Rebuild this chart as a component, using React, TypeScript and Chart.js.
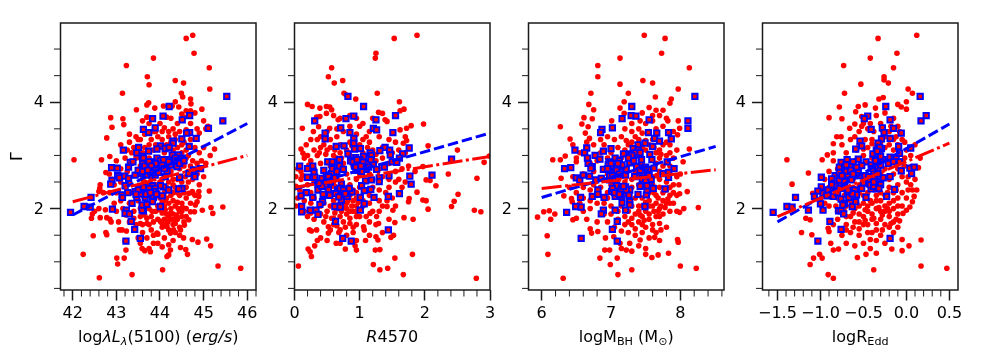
import React, { useEffect, useRef } from "react";
import { Chart, registerables } from "chart.js";

Chart.register(...registerables);

type P = number[];

const lumRed: P[] = [[44.75,5.26],[44.6,5.2],[44.78,4.92],[43.85,4.83],[43.23,4.69],[45.13,4.65],[43.71,4.48],[44.35,4.41],[43.75,4.33],[44.54,4.36],[45.14,4.25],[43.14,4.17],[44.49,4.17],[44.52,4.1],[44.7,4.06],[44.35,4.01],[44.71,3.97],[43.7,3.95],[43.74,3.99],[43.88,3.89],[43.46,3.86],[44.08,3.93],[44.28,3.93],[44.43,3.91],[44.6,3.84],[44.7,3.84],[44.96,3.87],[44.8,3.8],[44.5,3.78],[44.15,3.72],[43.7,3.72],[42.87,3.71],[43.15,3.69],[43.17,3.58],[42.9,3.53],[44.4,3.6],[44.55,3.72],[45,3.65],[45.1,3.55],[45.05,3.5],[44.9,3.42],[43.3,3.4],[42.78,3.33],[43.5,3.3],[43.45,3.35],[43.9,3.45],[44.1,3.52],[44.2,3.45],[44.6,3.48],[45.25,3.12],[45,3.15],[45.15,3],[42.03,2.92],[42.66,2.92],[42.85,2.98],[43,2.9],[42.76,2.68],[42.84,2.65],[42.9,2.55],[42.63,2.45],[42.62,2.38],[42.6,2.32],[42.7,2.3],[42.5,1.95],[42.45,1.9],[42.43,1.82],[42.63,1.83],[42.78,1.83],[42.85,1.8],[42.88,1.75],[42.75,1.98],[42.6,2],[42.47,1.49],[42.76,1.55],[42.78,1.51],[42.24,1.14],[43.01,1.07],[43.18,1.07],[43.03,0.96],[42.61,0.7],[43.36,0.76],[44.06,0.85],[45.33,0.92],[45.85,0.88],[45.16,1.3],[45.07,1.43],[44.87,1.37],[44.74,1.42],[44.54,1.45],[44.63,1.14],[44.47,1.27],[44.59,1.23],[44.24,1.22],[44.16,1.1],[44.2,1.13],[44.2,1.32],[43.85,1.35],[43.75,1.25],[43.59,1.25],[43.65,1.21],[43.78,1.19],[43.22,1.22],[43.2,1.39],[43.07,1.6],[43.13,1.6],[43.23,1.58],[45.13,2.33],[45.17,2.02],[45.21,1.91],[45.44,2.03],[44.97,1.97],[44.79,1.94],[44.81,2.07],[44.89,2.32],[44.89,2.23],[44.85,2.13],[44.74,2.32],[44.66,2.29],[44.7,1.94],[44.66,1.79],[44.56,1.69],[44.47,1.6],[44.31,1.6],[44.24,1.54],[44.16,1.66],[44.01,1.76],[43.93,1.54],[43.7,1.72],[43.55,1.72],[43.1,3.2],[43.3,3.25],[43.4,3.15],[43.55,3.3],[43.65,3.4],[43.8,3.3],[43.95,3.35],[44.05,3.3],[44.2,3.35],[44.35,3.4],[44.45,3.45],[44.7,3.3],[44.8,3.15],[44.9,3.05],[44.6,3.1],[44.4,3.15],[44.1,3.05],[43.85,3.1],[43.65,3.15],[43.35,3.05],[43.2,2.95],[43.45,2.95],[43.75,2.95],[44.3,2.9],[44.6,2.95],[44.75,2.9],[44.95,2.9],[45.05,2.85],[43.1,2.75],[43.25,2.7],[43.55,2.8],[43.85,2.7],[44.05,2.55],[44.25,2.7],[44.45,2.75],[44.7,2.8],[44.85,2.65],[45,2.6],[42.95,2.45],[43.1,2.5],[43.3,2.5],[43.6,2.55],[43.9,2.45],[44.2,2.5],[44.4,2.55],[44.65,2.5],[44.9,2.45],[42.85,2.3],[43,2.3],[43.35,2.3],[43.7,2.45],[44.15,2.4],[44.3,2.3],[44.6,2.4],[44.8,2.25],[42.95,2.1],[43.1,2.15],[43.3,2.1],[43.5,2.15],[43.75,2.25],[44,2.2],[44.15,2.2],[44.3,2.15],[44.45,2.25],[44.6,2.2],[44.7,2.1],[43,1.95],[43.15,2],[43.4,1.95],[43.65,2],[43.95,2.05],[44.1,2.05],[44.25,2],[44.35,2.05],[44.5,2.1],[44.6,2],[44.15,1.9],[44.3,1.9],[44.45,1.95],[44.6,1.85],[43.55,1.85],[43.8,1.85],[43.95,1.8],[44.1,1.8],[44.25,1.8],[44.4,1.8],[44.55,1.75],[43.05,1.75],[43.3,1.75],[43.45,1.7],[43.75,1.7],[44.15,1.7],[44.3,1.7],[44.45,1.65],[43.6,1.55],[43.8,1.6],[43.95,1.52],[44.05,1.65],[44.2,1.6],[44.35,1.55],[43.5,1.45],[43.7,1.45],[43.95,1.35],[44.3,1.4]];
const lumRedCore: P[] = [[43.45,3.1],[43.6,3.05],[43.9,3.2],[44.0,3.15],[44.15,3.2],[44.3,3.1],[44.5,3.05],[44.55,3.25],[44.25,3.25],[43.75,3.2],[43.55,2.95],[43.95,2.85],[44.4,2.85],[44.55,2.8],[44.15,2.85],[43.65,2.5],[43.8,2.55],[44.0,2.5],[44.3,2.55],[44.5,2.5],[44.3,2.45],[44.55,2.3],[44.4,2.3],[44.25,2.25],[44.1,2.3],[43.95,2.3],[43.6,2.25],[43.5,2.4],[43.25,2.3],[44.05,2.12],[44.2,2.1],[44.4,2.12],[44.52,2.02],[44.25,1.92],[44.38,1.88],[44.05,1.92],[43.9,1.95],[43.75,2.0],[43.55,2.0],[43.65,1.88],[44.5,1.85],[44.18,1.75],[44.35,1.72],[44.05,1.72],[43.85,1.75],[43.6,1.7],[43.4,1.82],[43.22,1.88],[43.15,2.2],[44.75,2.55],[44.75,2.3],[44.85,2.85],[44.65,3.0],[44.3,3.5],[44.0,3.6],[43.75,3.6],[43.6,3.65],[44.25,3.7],[44.7,3.6],[44.85,3.5],[43.25,3.1],[43.15,2.6],[43.05,2.6],[44.45,1.5],[44.1,1.45],[43.85,1.5],[43.55,1.35],[44.05,1.28],[44.12,2.15],[44.22,2.35],[44.35,2.4],[44.48,2.4],[44.58,2.6],[44.12,1.98],[44.42,2.0],[44.2,1.85],[43.98,1.98],[43.82,1.95],[44.32,1.8],[44.5,1.95],[43.7,1.82],[44.65,2.7],[44.5,3.2],[44.35,3.3],[44.05,3.45],[43.85,3.45]];

const lumBlue: P[] = [[41.95,1.93],[42.26,2.04],[42.4,2.03],[42.42,2.21],[42.91,1.99],[42.89,2.77],[43.02,2.76],[43.16,3.1],[42.9,2.53],[42.87,2.46],[43.03,2.62],[43.07,2.58],[43.19,2.61],[43.28,2.57],[43.2,2.43],[43.13,2.26],[43.14,2.21],[43.28,2.78],[43.32,2.87],[43.38,2.88],[43.26,2.3],[43.36,2.1],[43.23,1.97],[43.2,1.91],[43.3,1.9],[43.34,1.76],[43.42,1.61],[43.22,1.39],[43.55,1.44],[43.62,1.96],[43.59,1.97],[44.01,2.04],[43.83,3.69],[44.07,3.74],[44.21,3.92],[44.51,3.67],[44.68,3.75],[45.53,4.11],[45.44,3.65],[45.11,3.51],[44.83,3.32],[44.68,3.43],[44.61,3.42],[44.5,3.31],[44.67,3.17],[44.3,3.27],[44.3,3.23],[43.89,3.52],[43.74,3.43],[43.62,3.49],[43.51,3.15],[43.47,3.05],[43.74,3.08],[44.01,3.18],[43.93,3.12],[44.12,3.13],[44.21,3.15],[43.59,2.98],[43.62,2.95],[43.93,2.95],[43.82,2.88],[43.7,2.82],[44.01,2.9],[44.16,2.92],[44.28,3.01],[44.43,3.01],[44.51,2.95],[44.31,2.88],[44.24,2.82],[44.39,2.79],[44.01,2.79],[43.85,2.76],[43.66,2.73],[43.55,2.66],[43.43,2.63],[43.7,2.63],[43.89,2.63],[44.16,2.7],[44.12,2.6],[44.77,2.73],[44.93,2.75],[44.8,2.6],[44.45,2.59],[44.66,2.66],[44.5,2.38],[44.43,2.37],[44.2,2.35],[44.08,2.41],[44.01,2.43],[43.82,2.43],[43.89,2.38],[43.55,2.35],[43.43,2.32],[43.7,2.32],[43.85,2.32],[44.05,2.24],[43.66,2.21],[43.47,2.21],[43.85,2.21],[43.59,2.07],[43.7,2.08],[43.83,2.13]];
const lumBlueCore: P[] = [[43.75,2.75],[43.78,2.7],[43.95,2.75],[44.1,2.85],[44.35,2.95],[43.9,2.85],[43.62,2.33],[43.55,2.28],[43.75,2.38],[43.6,2.85],[43.65,2.8],[43.75,2.88],[43.8,2.8],[43.9,2.72],[43.97,2.68],[44.05,2.82],[44.1,2.75],[44.2,2.88],[44.4,2.9],[44.45,2.85],[44.55,2.9],[43.5,2.72],[43.6,2.7],[43.8,2.67],[44.08,2.92],[43.5,2.35],[43.62,2.4],[43.68,2.27],[43.78,2.3],[43.45,2.27],[43.92,2.27],[43.72,2.72]];

const r4570Red: P[] = [[1.88,5.26],[1.53,5.2],[1.25,4.92],[1.24,4.83],[0.57,4.65],[0.52,4.48],[0.74,4.41],[0.61,4.36],[1.27,4.17],[0.76,4.17],[0.79,4.14],[0.94,4.06],[0.2,3.96],[0.27,3.92],[0.39,3.89],[0.49,3.92],[0.54,3.91],[0.57,3.86],[0.49,3.79],[0.39,3.73],[0.34,3.72],[1.61,4.01],[1.68,3.87],[1.62,3.84],[1.29,3.81],[1.35,3.79],[0.12,3.51],[0.29,3.45],[0.37,3.54],[0.54,3.51],[0.67,3.67],[0.7,3.7],[1.39,3.67],[1.42,3.64],[1.98,3.59],[1.79,3.56],[1.72,3.51],[1.62,3.48],[1.7,3.35],[1.72,3.28],[1.67,3.23],[0.1,3.12],[0.18,3.2],[0.13,3.04],[2.05,3.18],[2.5,3.1],[2.91,2.87],[2.99,2.99],[2.8,2.57],[2.36,2.65],[2.17,2.43],[2.02,2.54],[2.08,2.53],[1.88,2.31],[1.97,2.79],[2.51,2.27],[2.45,2.14],[2.41,2.04],[2.76,1.97],[2.86,1.94],[1.97,2.16],[2.02,2.15],[2.05,1.99],[1.82,1.8],[1.68,1.83],[1.76,2.19],[1.75,2.13],[1.54,1.74],[1.51,1.97],[1.52,1.5],[1.48,1.46],[1.81,1.14],[1.54,1.07],[2.79,0.69],[1.67,0.76],[1.43,0.88],[1.31,0.85],[1.21,0.95],[0.06,0.92],[0.26,1.1],[0.24,1.19],[0.21,1.24],[0.31,1.3],[0.35,1.4],[0.23,1.6],[0.26,1.58],[0.34,1.6],[0.52,1.54],[0.52,1.66],[0.57,1.82],[0.68,1.55],[0.64,1.35],[0.7,1.35],[0.78,1.24],[0.93,1.3],[0.95,1.22],[1.09,1.4],[1.25,1.47],[1.28,1.41],[1.24,1.22],[1.31,1.23],[1.06,1.66],[1.07,1.6],[1.29,1.72],[1.26,1.85],[1.16,1.91],[1.42,2.04],[0.05,2.75],[0.02,2.6],[0.1,2.55],[0.02,2.42],[0.08,2.35],[0.05,2.2],[0.15,2.15],[0.02,2.05],[0.25,2.1],[0.3,2.2],[0.2,2.45],[0.3,2.5],[0.25,2.9],[0.2,3],[0.35,3],[0.3,3.1],[0.4,3.15],[0.45,3.2],[0.35,3.3],[0.55,3.3],[0.5,3.1],[0.6,3],[0.65,2.95],[0.7,3.05],[0.8,3.1],[0.85,3],[0.95,3.4],[1.05,3.3],[1.15,3.25],[0.75,3.45],[0.65,3.35],[1,3.55],[1.15,3.45],[1.3,3.35],[1.45,3.3],[1.55,3.25],[1.6,3.1],[1.5,3.05],[1.35,2.95],[1.25,2.9],[1.05,2.9],[0.4,2.85],[0.45,2.7],[0.6,2.65],[0.75,2.85],[0.9,2.8],[1.15,2.65],[1.35,2.6],[1.55,2.7],[1.65,2.75],[1.75,2.8],[1.85,2.7],[1.7,2.5],[1.55,2.5],[1.45,2.4],[1.65,2.4],[1.2,2.4],[0.95,2.55],[0.85,2.45],[0.65,2.55],[0.35,2.4],[0.55,2.4],[0.9,2.35],[1,2.4],[0.45,2.1],[0.6,2.15],[0.65,2],[0.75,2.05],[0.8,2.1],[0.9,2.15],[0.85,1.95],[0.95,2.05],[1.15,2.1],[1.3,2.15],[1.35,2.05],[1.2,1.95],[1.1,1.85],[0.95,1.85],[0.8,1.9],[0.7,1.85],[0.5,1.95],[0.4,1.9],[0.3,1.8],[0.45,1.75],[0.6,1.7],[0.75,1.75],[0.85,1.72],[0.95,1.7],[1.15,1.75],[1.25,1.7],[0.55,1.6],[0.7,1.6],[0.8,1.5],[0.9,1.55],[0.4,1.45],[0.5,1.4],[0.95,1.4],[1.15,1.5],[1.35,1.55],[1.45,1.8],[1.55,2.05],[1.5,2.2],[1.4,2.3]];
const r4570RedCore: P[] = [[0.55,3.15],[0.7,3.2],[0.85,3.25],[1.0,3.2],[1.2,3.1],[1.05,3.05],[0.95,3.15],[0.4,3.35],[0.5,3.45],[0.65,3.5],[0.85,3.55],[1.05,3.6],[0.25,3.3],[0.15,2.95],[0.3,2.75],[0.55,2.8],[0.8,2.65],[1.0,2.65],[1.3,2.75],[1.45,2.85],[1.45,2.55],[0.1,2.7],[0.15,2.3],[0.25,2.3],[0.45,2.5],[0.6,2.5],[0.75,2.4],[0.95,2.3],[1.15,2.25],[1.3,2.35],[0.5,2.25],[0.6,2.3],[0.85,2.25],[0.95,2.2],[0.7,2.2],[0.55,2.05],[0.8,2.0],[0.9,1.95],[1.05,2.05],[1.05,2.15],[0.62,1.92],[0.72,1.95],[0.95,1.95],[1.0,1.85],[0.6,1.82],[0.85,1.82],[0.78,1.65],[0.65,1.68],[0.9,1.65],[1.3,1.95],[1.42,2.15],[0.15,1.95],[0.25,1.92],[0.4,2.05],[0.2,1.85],[0.48,1.85],[1.6,2.55],[1.5,2.9],[1.7,3.05],[1.35,3.15],[0.95,3.7],[0.85,3.75],[1.2,3.7],[0.6,3.75],[0.72,2.1],[0.82,2.15],[0.88,2.05],[0.68,2.08],[0.78,2.02],[0.98,2.12],[0.78,2.25],[0.62,2.42],[0.12,2.62],[0.22,2.82],[0.38,3.05],[0.48,3.02],[0.72,2.95],[0.62,3.1],[0.88,3.18],[1.12,3.15],[1.25,3.02],[1.1,3.35]];

const r4570Blue: P[] = [[0.82,4.11],[1.06,3.92],[1.55,3.75],[0.31,3.65],[0.79,3.69],[0.91,3.74],[1.25,3.67],[1.21,3.51],[1.26,3.48],[0.71,3.52],[0.47,3.42],[0.47,3.31],[0.85,3.43],[0.91,3.32],[1.51,3.43],[0.64,3.17],[0.76,3.18],[0.91,3.23],[0.92,3.12],[1.01,3.13],[1.39,3.15],[1.46,3.1],[1.76,3.14],[1.31,3.09],[1.16,3.05],[0.82,3.03],[1.18,3],[1.47,3.01],[1.66,3.03],[1.61,2.95],[0.94,2.96],[1.06,2.98],[0.69,2.92],[0.86,2.9],[0.51,2.88],[0.58,2.88],[0.69,2.8],[1.5,2.88],[1.57,2.87],[0.08,2.8],[0.28,2.8],[0.2,2.75],[0.3,2.68],[0.2,2.59],[0.31,2.59],[0.42,2.57],[0.49,2.63],[0.57,2.66],[0.58,2.75],[0.75,2.74],[0.95,2.85],[1.01,2.79],[1.1,2.74],[1.21,2.83],[1.26,2.74],[1.38,2.78],[2.41,2.93],[2.11,2.63],[1.77,2.61],[1.79,2.46],[1.45,2.62],[1.3,2.58],[1.3,2.51],[1.18,2.54],[1.09,2.52],[1.03,2.43],[1.07,2.34],[1.17,2.36],[0.52,2.36],[0.36,2.35],[0.44,2.27],[0.18,2.3],[0.1,2.24],[0.28,2.21],[0.54,2.25],[0.66,2.35],[0.72,2.46],[0.72,2.26],[0.72,2.16],[0.81,2.32],[0.88,2.31],[0.81,2.23],[1.01,2.21],[1.22,2.21],[1.44,2.23],[1.61,2.28],[0.43,2.13],[0.39,2.08],[0.11,2.04],[0.11,1.94],[0.24,1.97],[0.33,1.97],[0.36,1.89],[0.62,2.04],[0.7,2.03],[1.01,1.97],[1.07,2.09],[0.63,1.76],[1.44,1.6],[0.74,1.44],[0.87,1.39]];
const r4570BlueCore: P[] = [[0.98,2.75],[1.03,2.7],[1.08,2.8],[0.96,2.72],[1.0,2.85],[1.12,2.85],[0.66,2.32],[0.7,2.38],[0.92,2.8],[0.9,2.88],[1.0,2.92],[1.05,2.87],[1.14,2.78],[1.17,2.92],[0.94,2.78],[1.02,2.8],[0.96,2.92],[0.63,2.28],[0.75,2.35],[0.68,2.22],[0.78,2.28],[0.84,2.38],[0.48,2.45],[0.42,2.42],[0.36,2.48],[0.55,2.5],[0.62,2.58],[0.52,2.6],[0.45,2.72],[0.65,2.7]];

const massRed: P[] = [[7.48,5.26],[7.78,5.2],[7.73,4.92],[7.13,4.83],[6.81,4.69],[8.13,4.65],[6.81,4.48],[7.46,4.41],[7.6,4.36],[7.13,4.34],[7.97,4.25],[6.71,4.17],[7.25,4.17],[7.19,4.01],[7.64,4.1],[7.87,4.06],[7.85,3.98],[6.68,3.96],[6.75,3.86],[7.13,3.89],[7.19,3.79],[6.61,3.71],[6.73,3.69],[7.01,3.65],[6.58,3.59],[6.27,3.54],[6.67,3.54],[6.41,3.31],[6.63,3.42],[6.69,3.32],[6.45,3.2],[6.34,2.99],[6.27,2.92],[6.16,2.92],[6.5,2.88],[6.28,2.57],[6.32,2.24],[6.43,2.19],[6.44,2.13],[6.19,1.9],[6.03,1.94],[6.11,1.96],[5.94,1.84],[6.13,1.8],[6.45,1.79],[6.5,1.82],[6.08,1.49],[6.09,1.14],[6.31,0.69],[6.99,0.95],[6.84,1.07],[7.1,0.76],[7.09,1.07],[7.3,0.85],[8,0.92],[8.23,0.88],[7.83,1.16],[7.68,1.13],[7.59,1.08],[7.5,1.14],[7.96,1.42],[7.97,1.37],[6.91,1.22],[6.98,1.22],[6.72,1.54],[6.7,1.62],[6.81,1.57],[6.92,1.45],[7.04,1.47],[7.13,1.35],[7.27,1.35],[7.22,1.22],[7.42,1.41],[7.63,1.46],[8.26,2.02],[8.05,2],[7.99,1.93],[8.1,2.32],[7.99,2.28],[8.04,2.88],[8.13,3.12],[7.97,3.65],[7.99,3.51],[7.96,3.39],[6.5,2.95],[6.55,3.05],[6.65,3.25],[6.75,3.2],[6.85,3.3],[6.95,3.35],[7.05,3.3],[7.15,3.35],[7.2,3.5],[7.3,3.45],[7.4,3.5],[7.5,3.6],[7.6,3.65],[7.7,3.75],[7.8,3.7],[7.45,3.8],[7.55,3.9],[7.65,3.85],[7.75,3.85],[7.82,3.65],[7.75,3.55],[7.9,3.45],[7.8,3.25],[7.95,3.1],[7.85,3.05],[7.7,3.1],[7.75,3.2],[7.5,3.1],[7.6,3.3],[7.3,3.25],[7.1,3.15],[7.2,3.1],[6.85,3.05],[6.95,2.95],[6.7,2.85],[6.6,2.65],[6.45,2.6],[6.5,2.3],[6.4,2.4],[6.75,2.45],[6.85,2.4],[6.95,2.3],[7,2.45],[7.05,2.6],[7.15,2.6],[7.3,2.55],[7.35,2.7],[7.45,2.85],[7.6,2.6],[7.7,2.55],[7.8,2.5],[7.9,2.45],[7.95,2.6],[8,2.65],[7.85,2.4],[7.75,2.3],[7.65,2.25],[7.55,2.15],[7.45,2.2],[7.35,2.2],[7.3,2.05],[7.4,2.05],[7.5,1.95],[7.6,2.05],[7.7,2],[7.8,2.1],[7.85,2.25],[7.9,2.1],[7.95,1.95],[7.85,1.95],[7.75,1.9],[7.65,1.85],[7.55,1.8],[7.45,1.85],[7.35,1.9],[7.2,1.85],[7.1,1.95],[7,2.05],[6.9,2.1],[6.8,2.1],[6.7,2],[6.6,1.95],[6.55,2.1],[6.65,1.8],[6.8,1.75],[6.95,1.75],[7.2,1.7],[7.3,1.7],[7.4,1.75],[7.5,1.65],[7.6,1.7],[7.7,1.72],[7.8,1.65],[7.65,1.55],[7.45,1.55],[7.35,1.5],[7.25,1.55],[7.15,1.58],[7.05,1.65],[7.55,1.45],[7.7,1.4],[7.4,1.3],[7.5,1.25],[7.3,1.2],[7.15,1.25]];
const massRedCore: P[] = [[7.15,2.95],[7.25,3.2],[7.4,3.3],[7.45,3.15],[7.55,3.2],[7.65,3.05],[7.7,2.95],[7.8,3.0],[7.55,3.45],[7.65,3.5],[7.35,3.35],[7.0,3.05],[6.9,3.2],[6.8,2.9],[6.75,2.7],[7.65,2.85],[7.75,2.8],[7.85,2.8],[7.9,2.95],[7.6,2.45],[7.7,2.4],[7.5,2.4],[7.4,2.45],[7.3,2.4],[7.25,2.2],[7.15,2.05],[7.25,1.95],[7.45,2.05],[7.55,2.3],[7.65,2.1],[7.75,2.15],[7.55,2.05],[7.85,2.1],[7.62,1.95],[7.7,1.85],[7.55,1.9],[7.4,1.95],[7.3,1.82],[7.45,1.7],[7.6,1.6],[7.72,1.6],[7.35,1.62],[7.1,1.8],[7.0,1.9],[6.9,1.9],[6.95,2.2],[6.8,2.25],[6.6,2.4],[6.7,2.35],[6.6,2.2],[6.7,2.15],[7.95,2.25],[7.98,2.45],[7.9,2.3],[7.4,2.6],[7.2,2.5],[7.1,2.55],[6.95,2.65],[7.55,2.7],[7.7,2.7],[7.85,2.65],[7.3,3.6],[7.42,3.65],[7.6,3.75],[7.68,2.2],[7.72,2.05],[7.62,2.3],[7.5,2.12],[7.42,1.88],[7.68,1.95],[7.78,2.02],[7.82,2.18],[7.48,1.78],[7.25,1.75],[7.8,2.35],[7.66,2.62],[7.5,3.28],[7.62,3.15],[7.45,3.42],[7.72,3.02],[7.85,3.2],[7.22,3.28]];

const massBlue: P[] = [[8.21,4.11],[7.3,3.92],[7.29,3.75],[7.36,3.74],[7.16,3.69],[7.55,3.67],[8.11,3.65],[8.11,3.51],[7.02,3.52],[6.87,3.49],[6.85,3.43],[7.54,3.43],[7.66,3.42],[7.83,3.43],[7.87,3.31],[7.63,3.32],[7.7,3.27],[7.49,3.23],[7.6,3.17],[7.39,3.2],[7.32,3.13],[6.48,3.1],[6.65,3.14],[6.62,3.05],[7,3.13],[6.89,3.08],[7.39,3.1],[7.39,3.01],[7.18,3.03],[7.27,3.03],[7.56,3.02],[7.59,2.92],[6.77,3],[6.84,2.93],[6.66,2.95],[6.97,2.88],[7.06,2.95],[7.12,2.9],[7.44,2.92],[7.81,2.88],[6.67,2.85],[6.96,2.82],[7.03,2.79],[7.14,2.78],[7.27,2.86],[7.37,2.79],[6.73,2.79],[6.71,2.76],[6.33,2.75],[6.42,2.77],[6.89,2.74],[7,2.7],[7.22,2.74],[7.47,2.76],[7.54,2.74],[7.62,2.76],[7.91,2.75],[7.75,2.66],[7.83,2.68],[7.83,2.59],[6.5,2.58],[6.55,2.54],[6.6,2.63],[6.69,2.61],[6.78,2.54],[6.86,2.57],[6.98,2.54],[7.21,2.63],[7.34,2.6],[7.47,2.6],[7.56,2.48],[7.47,2.48],[7.78,2.37],[7.61,2.38],[7.08,2.43],[7.21,2.41],[7.01,2.32],[7.1,2.32],[7.27,2.35],[7.39,2.27],[7.51,2.26],[6.81,2.35],[6.81,2.27],[6.73,2.23],[6.9,2.21],[6.56,2.21],[7.06,2.23],[7.15,2.23],[7.22,2.28],[7.16,2.11],[7.27,2.13],[7.27,2.07],[6.49,2.04],[6.57,2.03],[7.49,2.04],[7.21,1.97],[7.06,1.97],[6.89,1.97],[6.86,1.9],[6.36,1.93],[7.09,1.76],[7.02,1.61],[6.57,1.44],[7.09,1.39]];
const massBlueCore: P[] = [[7.45,2.55],[7.5,2.52],[7.42,2.42],[7.05,2.7],[7.0,2.85],[7.08,2.72],[7.52,2.35],[7.45,2.68],[7.55,2.62],[7.42,2.72],[7.5,2.78],[7.58,2.55],[6.98,2.62],[7.12,2.65],[7.16,2.82],[7.02,2.62],[7.1,2.85],[6.95,2.75],[7.02,2.38],[7.15,2.37],[7.22,2.35],[7.05,2.3],[7.18,2.42],[7.12,2.27],[7.26,2.25],[7.35,3.05],[7.3,3.0],[7.42,3.05],[7.33,2.9],[7.25,2.95],[7.52,2.43]];

const eddRed: P[] = [[0.12,5.26],[-0.33,5.2],[-0.11,4.92],[-0.42,4.83],[-0.73,4.69],[-0.15,4.65],[-0.26,4.48],[-0.26,4.42],[-0.21,4.36],[-0.53,4.34],[0.02,4.25],[0.07,4.17],[-0.72,4.17],[-0.27,4.09],[-0.32,4.06],[0,4.01],[-0.78,3.91],[-0.48,3.95],[-0.56,3.92],[-0.36,3.89],[-0.1,3.96],[-0.06,3.91],[0,3.87],[-0.9,3.71],[-0.75,3.69],[-0.59,3.82],[-0.52,3.73],[-0.6,3.59],[-0.66,3.51],[-0.81,3.35],[-0.76,3.35],[-0.85,3.22],[-0.92,3.01],[-0.98,2.92],[-1.39,2.92],[-1.14,2.67],[-1.33,2.46],[-1.09,2.29],[-1.17,1.82],[-1.12,1.79],[-1.22,1.55],[-1.1,1.51],[-0.91,1.63],[-0.9,1.57],[-0.88,1.35],[-0.85,1.22],[-0.79,1.24],[-1.08,1.07],[-1.01,1.14],[-0.98,1.07],[-1.12,0.95],[-0.91,0.76],[-0.85,0.69],[-0.38,0.85],[-0.57,1.08],[-0.47,1.14],[-0.35,1.16],[-0.17,1.24],[-0.05,1.21],[0.03,1.3],[-0.05,1.42],[0.17,1.41],[0.17,0.92],[0.47,0.88],[-0.08,1.77],[-0.04,1.91],[0.04,2.03],[0,1.97],[0.07,2.13],[0.09,2.23],[0.12,2.35],[0.07,2.35],[0.14,2.77],[0.16,2.95],[0.06,2.79],[-0.85,2.9],[-0.8,2.75],[-0.9,2.7],[-0.95,2.55],[-0.9,2.4],[-1,2.15],[-0.95,2.1],[-0.9,2.05],[-0.8,2.2],[-0.75,2.4],[-0.7,2.3],[-0.65,2.65],[-0.6,2.9],[-0.7,3.05],[-0.75,3.2],[-0.65,3.3],[-0.55,3.45],[-0.45,3.5],[-0.4,3.3],[-0.45,3.15],[-0.5,3],[-0.4,2.95],[-0.25,3.15],[-0.2,3.45],[-0.3,3.6],[-0.35,3.75],[-0.25,3.8],[-0.15,3.7],[-0.1,3.55],[-0.05,3.3],[-0.15,3.1],[-0.1,3.2],[0,3.1],[0.05,3],[-0.02,2.95],[0.1,3.2],[-0.4,2.6],[-0.3,2.65],[-0.25,2.75],[-0.1,2.75],[-0.05,2.6],[0,2.5],[0.05,2.45],[-0.1,2.45],[-0.2,2.4],[-0.3,2.3],[-0.45,2.3],[-0.55,2.45],[-0.65,2.15],[-0.7,2.05],[-0.5,2.1],[-0.4,2.1],[-0.3,2.15],[-0.2,2.1],[-0.1,2.2],[-0.05,2.3],[0,2.2],[-0.15,2],[-0.25,1.95],[-0.35,2],[-0.45,1.95],[-0.55,1.9],[-0.65,1.85],[-0.6,1.75],[-0.5,1.7],[-0.4,1.8],[-0.3,1.8],[-0.2,1.85],[-0.1,1.9],[-0.05,2.05],[-0.7,1.7],[-0.8,1.8],[-0.85,1.7],[-0.75,1.5],[-0.65,1.55],[-0.55,1.5],[-0.5,1.35],[-0.45,1.55],[-0.35,1.6],[-0.3,1.5],[-0.2,1.65],[-0.15,1.55],[-0.25,1.35],[-0.35,1.4],[-0.15,1.75],[-0.7,1.35],[-0.6,1.3],[-0.42,1.25],[-0.68,2.9],[-0.85,3.05],[-0.55,2.75],[-0.5,2.6],[-0.62,2.55],[-0.58,3.1],[-0.3,3],[-0.2,2.55],[-0.35,2.45],[-0.12,2.35],[-0.72,2.55]];
const eddRedCore: P[] = [[-0.48,3.3],[-0.38,3.45],[-0.3,3.25],[-0.2,3.2],[-0.55,3.2],[-0.35,3.15],[-0.25,3.35],[-0.12,3.35],[-0.02,3.25],[-0.42,3.6],[-0.5,3.6],[-0.6,3.35],[-0.25,2.6],[-0.15,2.65],[-0.05,2.75],[0.02,2.6],[-0.45,2.45],[-0.3,2.45],[-0.25,2.25],[-0.15,2.3],[-0.35,2.25],[-0.5,2.25],[-0.6,2.2],[-0.55,2.05],[-0.45,2.05],[-0.35,2.15],[-0.25,2.05],[-0.15,2.15],[-0.1,2.05],[0.02,2.35],[-0.6,2.0],[-0.5,1.85],[-0.4,1.9],[-0.3,1.95],[-0.2,1.95],[-0.12,1.8],[-0.55,1.75],[-0.45,1.7],[-0.35,1.72],[-0.25,1.7],[-0.7,1.85],[-0.62,1.65],[-0.72,1.95],[-0.8,1.95],[-0.82,2.05],[-0.72,2.25],[-0.82,2.35],[-0.78,2.5],[-0.62,2.4],[-0.55,2.3],[-0.4,1.55],[-0.28,1.6],[-0.1,1.65],[-0.55,1.62],[-0.42,1.42],[-0.7,1.6],[-0.05,2.9],[-0.02,2.8],[0.1,2.55],[-0.15,3.3],[-0.08,3.45],[-0.52,3.55],[-0.42,2.15],[-0.32,2.02],[-0.48,1.98],[-0.58,2.12],[-0.22,2.0],[-0.28,1.88],[-0.38,1.82],[-0.48,1.78],[-0.18,1.72],[-0.62,1.92],[-0.32,2.38],[-0.22,2.3],[-0.4,3.22],[-0.5,3.12],[-0.28,3.48],[-0.18,3.55]];

const eddBlue: P[] = [[0.16,4.11],[-0.24,3.92],[-0.45,3.74],[-0.49,3.69],[0.23,3.75],[0.17,3.65],[-0.19,3.67],[-0.41,3.49],[-0.28,3.52],[-0.15,3.51],[-0.06,3.42],[-0.26,3.43],[-0.54,3.27],[-0.19,3.32],[-0.29,3.31],[-0.33,3.23],[-0.09,3.17],[0.05,3.14],[-0.52,3.18],[-0.59,3.12],[-0.35,3.1],[-0.29,3.13],[-0.39,3.03],[-0.31,3.03],[-0.56,2.93],[-0.69,2.92],[-0.47,2.88],[-0.76,2.87],[-0.62,2.88],[-0.19,2.97],[-0.12,2.95],[-0.08,3.04],[-0.27,2.92],[-0.35,2.85],[-0.78,2.78],[-0.72,2.78],[-0.66,2.79],[-0.52,2.81],[-0.41,2.82],[-0.21,2.85],[-0.15,2.88],[-0.08,2.88],[0.04,2.76],[0.09,2.78],[0.06,2.66],[-0.06,2.71],[-0.33,2.77],[-0.56,2.7],[-0.99,2.59],[-0.83,2.62],[-0.87,2.56],[-0.74,2.63],[-0.68,2.63],[-0.6,2.62],[-0.48,2.62],[-0.19,2.6],[-0.27,2.58],[-0.43,2.54],[-0.83,2.48],[-0.78,2.54],[-0.72,2.51],[-0.64,2.54],[-0.5,2.48],[-0.35,2.51],[-0.99,2.41],[-1.03,2.33],[-0.97,2.29],[-0.91,2.35],[-0.85,2.38],[-0.14,2.36],[-0.41,2.37],[-0.35,2.37],[-0.6,2.35],[-0.52,2.38],[-1.07,2.23],[-0.93,2.24],[-0.85,2.23],[-0.68,2.29],[-0.58,2.26],[-0.47,2.21],[-0.23,2.23],[-0.76,2.18],[-0.67,2.21],[-1.29,2.21],[-1.39,2.04],[-1.33,2.03],[-1.55,1.93],[-1.14,1.97],[-1,2.09],[-0.97,1.97],[-0.63,2.04],[-0.59,2.13],[-0.72,2.1],[-0.74,2.07],[-0.79,1.96],[-0.76,1.96],[-0.73,1.9],[-0.89,1.76],[-0.76,1.61],[-1.03,1.39],[-0.19,1.44]];
const eddBlueCore: P[] = [[-0.42,2.45],[-0.38,2.42],[-0.44,2.6],[-0.37,2.6],[-0.31,3.15],[-0.38,2.7],[-0.33,2.65],[-0.36,2.9],[-0.3,2.98],[-0.34,3.08],[-0.4,2.75],[-0.78,2.68],[-0.7,2.7],[-0.65,2.72],[-0.58,2.78],[-0.62,2.65],[-0.75,2.62],[-0.7,2.82],[-0.55,2.62],[-0.82,2.42],[-0.78,2.38],[-0.87,2.45],[-0.8,2.3],[-0.7,2.38],[-0.63,2.28],[-0.68,2.35],[-0.3,2.45],[-0.38,2.5],[-0.32,2.38],[-0.3,2.82]];

const lumRedFit: P[] = [[42,2.13],[46,3.0]];
const lumBlueFit: P[] = [[42,1.88],[46,3.6]];
const r4570RedFit: P[] = [[0,2.4],[3,2.98]];
const r4570BlueFit: P[] = [[0,2.37],[3,3.42]];
const massRedFit: P[] = [[6,2.38],[8.51,2.73]];
const massBlueFit: P[] = [[6,2.21],[8.51,3.17]];
const eddRedFit: P[] = [[-1.5,1.85],[0.5,3.23]];
const eddBlueFit: P[] = [[-1.5,1.75],[0.5,3.59]];

type Seg = { t: string; it?: boolean; sub?: boolean };

const FONT = '"DejaVu Sans"';
const RED = "#ff0000";
const BLUE = "#0000ff";
const INK = "#1a1a1a";

const panels = [
  { red: [...lumRed, ...lumRedCore], blue: [...lumBlue, ...lumBlueCore], redFit: lumRedFit, blueFit: lumBlueFit, min: 41.72, max: 46.2, minor: 0.2, major: 1, dec: 0, plotLeft: 60.5, canvasLeft: 0, yTitle: true,
    title: [{ t: "log" }, { t: "λL", it: true }, { t: "λ", it: true, sub: true }, { t: "(5100) (" }, { t: "erg/s", it: true }, { t: ")" }] as Seg[], plain: "logλLλ(5100) (erg/s)" },
  { red: [...r4570Red, ...r4570RedCore], blue: [...r4570Blue, ...r4570BlueCore], redFit: r4570RedFit, blueFit: r4570BlueFit, min: 0, max: 3, minor: 0.2, major: 1, dec: 0, plotLeft: 45.5, canvasLeft: 249, yTitle: false,
    title: [{ t: "R", it: true }, { t: "4570" }] as Seg[], plain: "R4570" },
  { red: [...massRed, ...massRedCore], blue: [...massBlue, ...massBlueCore], redFit: massRedFit, blueFit: massBlueFit, min: 5.81, max: 8.63, minor: 0.2, major: 1, dec: 0, plotLeft: 45.5, canvasLeft: 483, yTitle: false,
    title: [{ t: "logM" }, { t: "BH", sub: true }, { t: " (M" }, { t: "⊙", sub: true }, { t: ")" }] as Seg[], plain: "logMBH (M⊙)" },
  { red: [...eddRed, ...eddRedCore], blue: [...eddBlue, ...eddBlueCore], redFit: eddRedFit, blueFit: eddBlueFit, min: -1.674, max: 0.6, minor: 0.1, major: 0.5, dec: 1, plotLeft: 45.5, canvasLeft: 717, yTitle: false,
    title: [{ t: "logR" }, { t: "Edd", sub: true }] as Seg[], plain: "logREdd" },
];

const isMajor = (v: number, step: number) => Math.abs(v / step - Math.round(v / step)) < 1e-6;
const pts = (a: P[]) => a.map(([x, y]) => ({ x, y }));

function Panel({ cfg }: { cfg: (typeof panels)[number] }) {
  const ref = useRef<HTMLCanvasElement>(null);
  const width = Math.round(cfg.plotLeft + 195.5 + 15);
  useEffect(() => {
    const frame = {
      id: "frame",
      afterDraw(chart: any) {
        const { ctx, chartArea: a, scales } = chart;
        ctx.save();
        ctx.strokeStyle = INK;
        ctx.lineWidth = 1;
        for (const t of scales.x.ticks) {
          if (isMajor(t.value, cfg.major)) continue;
          const px = scales.x.getPixelForValue(t.value);
          ctx.beginPath();
          ctx.moveTo(px, a.bottom);
          ctx.lineTo(px, a.bottom + 6.5);
          ctx.stroke();
        }
        for (const t of scales.y.ticks) {
          if (isMajor(t.value, 2)) continue;
          const py = scales.y.getPixelForValue(t.value);
          ctx.beginPath();
          ctx.moveTo(a.left, py);
          ctx.lineTo(a.left - 6.5, py);
          ctx.stroke();
        }
        ctx.lineWidth = 1.5;
        ctx.strokeRect(a.left, a.top, a.right - a.left, a.bottom - a.top);

        const size = 16;
        const seg = (s: Seg) => `${s.it ? "italic " : ""}${s.sub ? size * 0.7 : size}px ${FONT}`;
        let w = 0;
        for (const s of cfg.title) {
          ctx.font = seg(s);
          w += ctx.measureText(s.t).width;
        }
        let x = (a.left + a.right) / 2 - w / 2;
        ctx.fillStyle = "#000";
        ctx.textBaseline = "alphabetic";
        ctx.textAlign = "left";
        for (const s of cfg.title) {
          ctx.font = seg(s);
          ctx.fillText(s.t, x, s.sub ? 345 : 342);
          x += ctx.measureText(s.t).width;
        }
        ctx.restore();
      },
    };
    const fmt = (v: number) => {
      const s = Math.abs(v).toFixed(cfg.dec);
      return v < -1e-9 ? "\u2212" + s : s;
    };
    const chart = new Chart(ref.current!, {
      type: "scatter",
      data: {
        datasets: [
          { label: "fit red", data: pts(cfg.redFit), showLine: true, pointRadius: 0, borderColor: RED, borderWidth: 3, borderDash: [20, 3.5, 3, 3.5], order: 0 },
          { label: "fit blue", data: pts(cfg.blueFit), showLine: true, pointRadius: 0, borderColor: BLUE, borderWidth: 3, borderDash: [10.5, 4], order: 1 },
          { label: "blue", data: pts(cfg.blue), pointStyle: "rect", pointRadius: 3.8, backgroundColor: RED, borderColor: BLUE, borderWidth: 1.9, order: 2 },
          { label: "red", data: pts(cfg.red), pointRadius: 2.8, backgroundColor: RED, borderColor: RED, borderWidth: 0, order: 3 },
        ],
      },
      options: {
        responsive: false,
        animation: false,
        events: [],
        layout: { padding: { left: 0, right: 15, top: 23, bottom: 0 } },
        plugins: { legend: { display: false }, tooltip: { enabled: false } },
        scales: {
          x: {
            type: "linear",
            min: cfg.min,
            max: cfg.max,
            afterFit(s: any) { s.height = 69; },
            grid: { drawOnChartArea: false, drawTicks: true, tickLength: 10.5, tickWidth: 1.5, tickColor: (c: any) => (isMajor(c.tick.value, cfg.major) ? INK : "transparent") },
            border: { display: false },
            title: { display: false, text: cfg.plain },
            ticks: {
              stepSize: cfg.minor, includeBounds: false, autoSkip: false, maxRotation: 0, padding: 4, color: "#000",
              font: { family: FONT, size: 16 },
              callback: (v: any) => (isMajor(Number(v), cfg.major) ? fmt(Number(v)) : ""),
            },
          },
          y: {
            type: "linear",
            min: 0.47,
            max: 5.49,
            afterFit(s: any) { s.width = cfg.plotLeft; },
            grid: { drawOnChartArea: false, drawTicks: true, tickLength: 10.5, tickWidth: 1.5, tickColor: (c: any) => (isMajor(c.tick.value, 2) ? INK : "transparent") },
            border: { display: false },
            title: { display: cfg.yTitle, text: "Γ", color: "#000", font: { family: FONT, size: 16 }, padding: { top: 8, bottom: 0 } },
            ticks: {
              stepSize: 0.5, includeBounds: false, autoSkip: false, padding: 6, labelOffset: 1, color: "#000",
              font: { family: FONT, size: 16 },
              callback: (v: any) => (isMajor(Number(v), 2) ? String(Math.round(Number(v))) : ""),
            },
          },
        },
      } as any,
      plugins: [frame],
    });
    return () => chart.destroy();
  }, []);
  return (
    <canvas
      ref={ref}
      width={width}
      height={359}
      style={{ position: "absolute", left: cfg.canvasLeft, top: 0, width, height: 359, display: "block" }}
    />
  );
}

export default function App() {
  useEffect(() => {
    document.body.style.margin = "0";
    document.body.style.background = "#fff";
  }, []);
  return (
    <div style={{ position: "fixed", left: 0, top: 0, width: 981, height: 359, overflow: "hidden", background: "#fff" }}>
      {panels.map((p) => (
        <Panel key={p.plain} cfg={p} />
      ))}
    </div>
  );
}
